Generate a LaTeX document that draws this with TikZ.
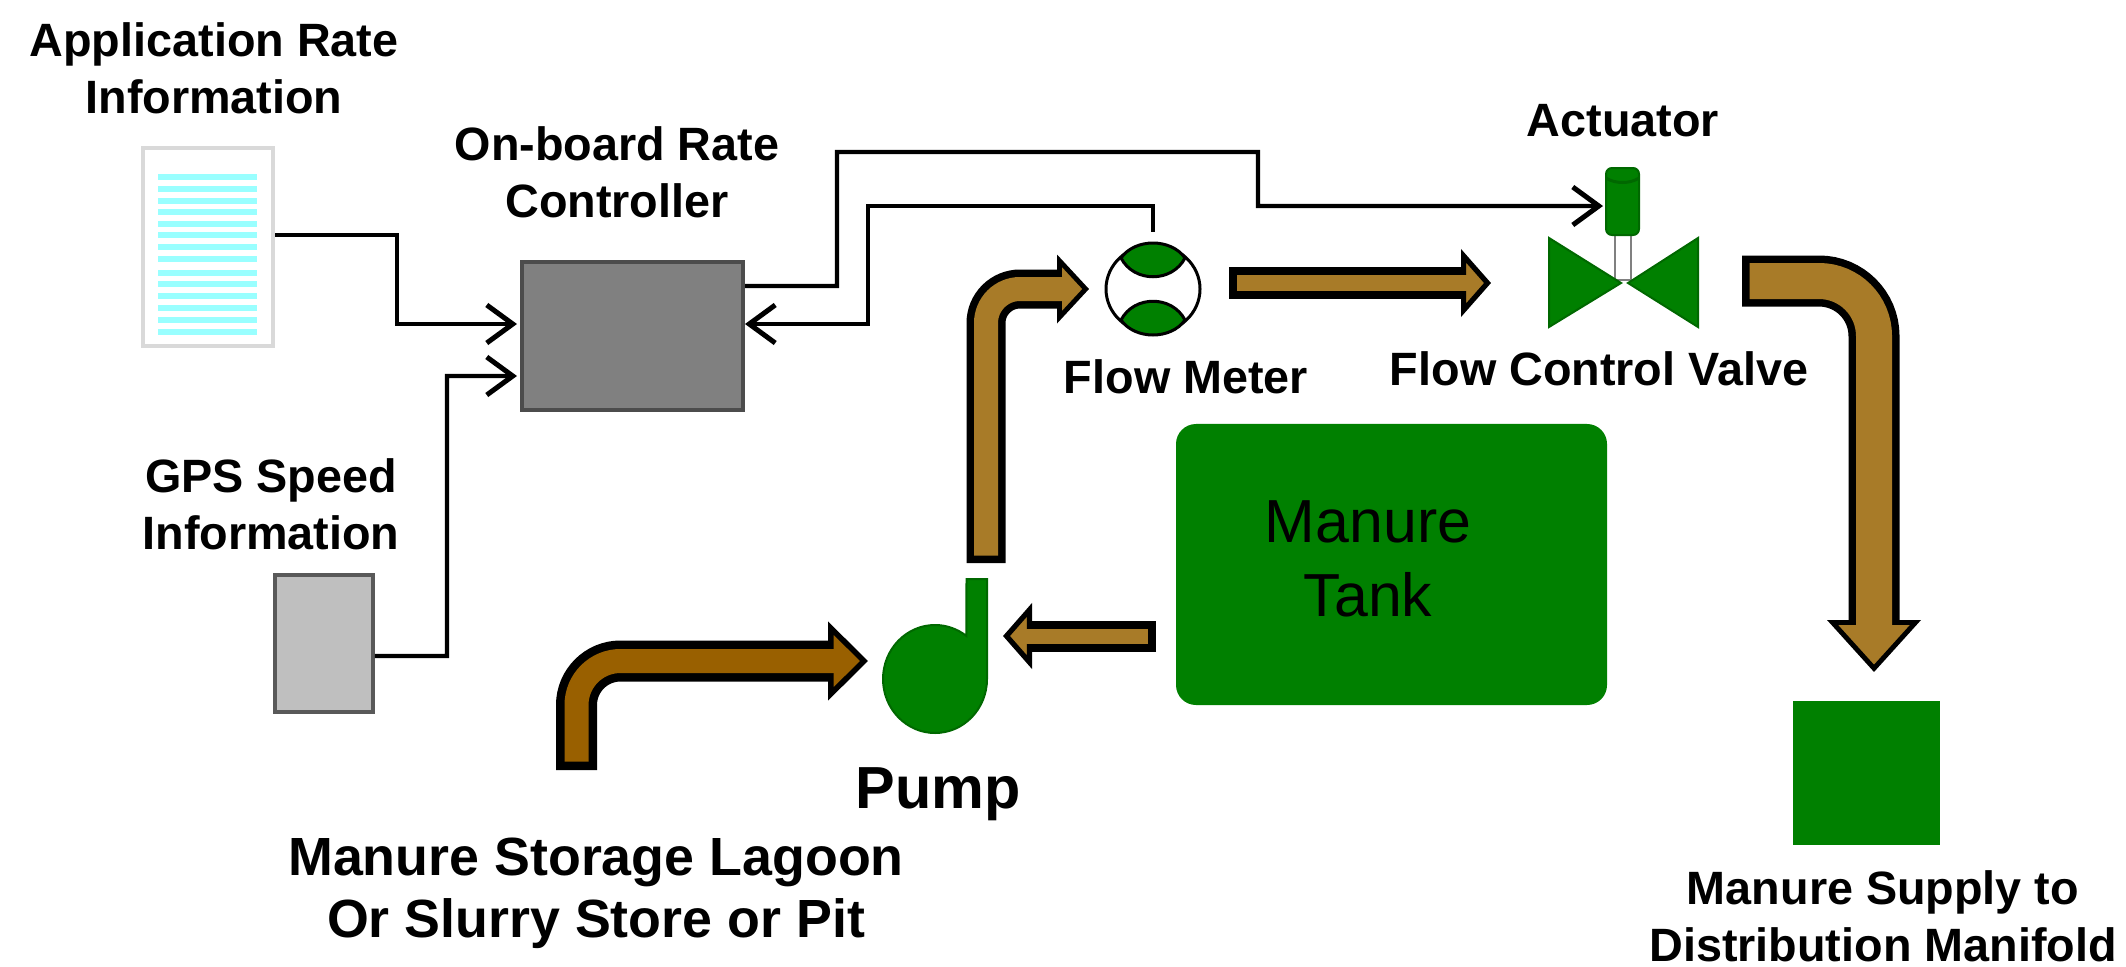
\documentclass[tikz,border=0pt]{standalone}
\usepackage{fontspec}
\setmainfont{Liberation Sans}
\usetikzlibrary{shapes,shapes.geometric,arrows.meta,calc}
\definecolor{plantgreen}{HTML}{008000}
\definecolor{greenedge}{HTML}{006800}
\definecolor{pipelight}{HTML}{A87B28}
\definecolor{pipedark}{HTML}{996000}
\definecolor{stripeblue}{HTML}{99FFFF}
\tikzset{
  x=0.1mm, y=-0.1mm,
  label13/.style = {align=center, inner sep=0pt, font=\fontsize{13.3}{16.2}\selectfont\bfseries},
  label15/.style = {align=center, inner sep=0pt, font=\fontsize{15.3}{17.7}\selectfont\bfseries},
  label17/.style = {align=center, inner sep=0pt, font=\fontsize{16.9}{20}\selectfont\bfseries},
  tanktext/.style = {align=center, inner sep=0pt, font=\fontsize{17.3}{21.2}\selectfont},
  block/.style = {rectangle, inner sep=0pt},
  greenpart/.style = {fill=plantgreen, draw=greenedge, line width=.2mm},
  stripe/.style = {draw=stripeblue, line width=.55mm},
  sig/.style = {draw=black, line width=.42mm, -{Straight Barb[length=2.6mm,width=3.8mm,line width=.5mm]}},
  pipe/.style n args = {5}{draw=black, line width=#1+2*#2,
    -{Triangle[length=#3,width=#4,fill=#5,line width=.65*#2]},
    postaction={draw=#5, line width=#1, arrows=-, shorten <=#2, shorten >=#3-1.4*#2}}
}
\begin{document}
\begin{tikzpicture}
\path[use as bounding box] (0,0) rectangle (2126,966);

\node [label13] at (214,68) {Application Rate\\Information};
\node [label13] at (617,172) {On-board Rate\\Controller};
\node [label13] at (271,504) {GPS Speed\\Information};
\node [label13] at (1623,121) {Actuator};
\node [label13] at (1186,377) {Flow Meter};
\node [label13] at (1599,369) {Flow Control Valve};
\node [label17] at (938,794) {Pump};
\node [label15] at (596,893) {Manure Storage Lagoon\\Or Slurry Store or Pit};
\node [label13] at (1883,916) {Manure Supply to\\Distribution Manifold};

\node [block, draw=black!15, fill=white, line width=.4mm, minimum width=13cm*.1, minimum height=19.8cm*.1] (paper) at (208,247) {};
\foreach \y in {177,189,201,212,224,235,247,259,273,284,296,308,320,332}
	\draw [stripe] (158,\y) -- (257,\y);
\node [block, draw=black!70, fill=black!50, line width=.4mm, minimum width=22.1cm*.1, minimum height=14.8cm*.1] (ctrl) at (632.5,336) {};
\node [block, draw=black!65, fill=black!25, line width=.35mm, minimum width=9.8cm*.1, minimum height=13.7cm*.1] (gps) at (324,643.5) {};
\node [block, fill=plantgreen, rounded corners=2mm, minimum width=43.1cm*.1, minimum height=28.1cm*.1] (tank) at (1391.5,564.5) {};
\node [tanktext] at (1368,559) {Manure\\Tank};
\node [block, fill=plantgreen, minimum width=14.7cm*.1, minimum height=14.4cm*.1] (supply) at (1866.5,773) {};

% flow meter
\node [ellipse, inner sep=0pt, draw=black, fill=white, line width=.3mm, minimum width=9.4cm*.1, minimum height=8.8cm*.1] (meter) at (1153,289) {};
\draw [fill=plantgreen, draw=black, line width=.3mm] (1121,258) .. controls (1135,238) and (1171,238) .. (1185,258) .. controls (1172,283) and (1134,283) .. cycle;
\draw [fill=plantgreen, draw=black, line width=.3mm] (1121,320) .. controls (1135,340) and (1171,340) .. (1185,320) .. controls (1172,295) and (1134,295) .. cycle;

% valve and actuator
\draw [fill=white, draw=black!50, line width=.25mm] (1615,235) rectangle (1631,280);
\node [block, greenpart, rounded corners=.6mm, minimum width=3.3cm*.1, minimum height=6.7cm*.1] (act) at (1622.5,201.5) {};
\draw [draw=greenedge, line width=.3mm] (1606,178) .. controls (1615,184) and (1630,184) .. (1639,178);
\draw [greenpart] (1549,238) -- (1549,327) -- (1621,283) -- cycle;
\draw [greenpart] (1698,238) -- (1698,327) -- (1628,283) -- cycle;

% pump
\draw [greenpart] (966.5,579) -- (987,579) -- (987,679) arc [start angle=0, end angle=307, x radius=52, y radius=54] -- cycle;

% signal lines
\coordinate (riseA) at (837,152);
\coordinate (dropA) at (1258,206);
\coordinate (backA) at (868,206);
\draw [sig, shorten >=.3mm] ([yshift=1.2mm]paper.east) -- ++(122,0) |- ([yshift=1.2mm]ctrl.west);
\draw [sig, shorten >=.3mm] ([yshift=-1.25mm]gps.east) -| (447,376) -- ([yshift=-4mm]ctrl.west);
\draw [sig, shorten >=.2mm] ([yshift=5mm]ctrl.east) -| (riseA) -| (dropA) -- ([yshift=-.45mm]act.west);
\draw [sig] ([yshift=1.2mm]meter.north) |- (backA) |- ([yshift=1.2mm]ctrl.east);

% manure pipes
\coordinate (lagoonEnd) at (576.5,770);
\coordinate (pumpIn) at (868,661);
\coordinate (tankOut) at (1156,636);
\coordinate (pumpSide) at (1003,636);
\coordinate (pumpOut) at (986,563);
\coordinate (meterIn) at (1089,289);
\coordinate (meterOut) at (1229,283);
\coordinate (valveIn) at (1491,283);
\coordinate (valveOut) at (1742,281);
\coordinate (supplyIn) at (1874,672);
\draw [pipe={2.4mm}{.85mm}{4mm}{7.8mm}{pipedark}, rounded corners=4.4mm] (lagoonEnd) |- (pumpIn);
\draw [pipe={1.5mm}{.8mm}{2.9mm}{6.5mm}{pipelight}] (tankOut) -- (pumpSide);
\draw [pipe={2.4mm}{.75mm}{3.2mm}{6.8mm}{pipelight}, rounded corners=3.4mm] (pumpOut) |- (meterIn);
\draw [pipe={1.6mm}{.8mm}{3mm}{6.7mm}{pipelight}] (meterOut) -- (valveIn);
\draw [pipe={3.6mm}{.75mm}{5.2mm}{9.3mm}{pipelight}, rounded corners=5.5mm] (valveOut) -| (supplyIn);
\end{tikzpicture}
\end{document}
